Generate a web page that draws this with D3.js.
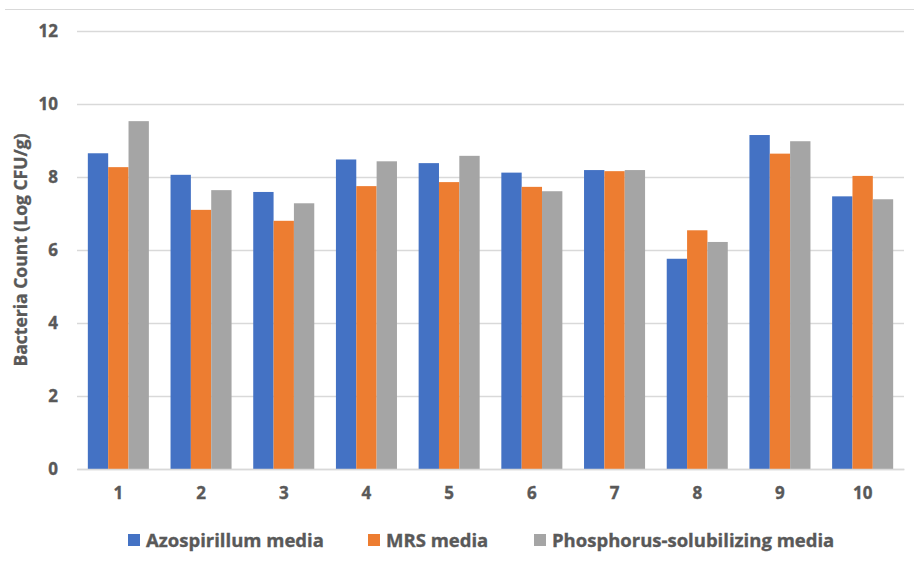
<!DOCTYPE html>
<html>
<head>
<meta charset="utf-8">
<script src="https://cdn.jsdelivr.net/npm/d3@7"></script>
<style>
  html, body { margin: 0; padding: 0; background: #fff; }
  svg { display: block; }
  text { font-family: "Open Sans", Lato, sans-serif; font-weight: bold; fill: #595959; stroke: #595959; stroke-width: 0.35px; }
</style>
</head>
<body>
<svg id="chart" width="914" height="564"></svg>
<script>
// Sample numbers 1–10
const categories = ["1", "2", "3", "4", "5", "6", "7", "8", "9", "10"];
const seriesNames = ["Azospirillum media", "MRS media", "Phosphorus-solubilizing media"];
const azospirillum = [8.65, 8.06, 7.59, 8.48, 8.38, 8.12, 8.19, 5.76, 9.15, 7.47];
const mrs = [8.27, 7.10, 6.80, 7.75, 7.86, 7.73, 8.16, 6.54, 8.64, 8.03];
const phosphorus = [9.53, 7.64, 7.28, 8.43, 8.58, 7.61, 8.19, 6.22, 8.98, 7.39];
const yTicks = [0, 2, 4, 6, 8, 10, 12];
const colors = ["#4472C4", "#ED7D31", "#A5A5A5"];

const seriesValues = [azospirillum, mrs, phosphorus];
const rows = categories.map((c, i) => ({ cat: c, values: seriesValues.map(s => s[i]) }));

const svg = d3.select("#chart");
const margin = { left: 77, right: 10, top: 31, bottom: 95 };
const W = 914, H = 564;

// thin rule at the top edge
svg.append("line")
  .attr("x1", 5).attr("x2", W).attr("y1", 9.5).attr("y2", 9.5)
  .attr("stroke", "#d9d9d9").attr("stroke-width", 1.2);

const x = d3.scaleBand().domain(categories).range([margin.left, W - margin.right]).paddingInner(0).paddingOuter(0);
const y = d3.scaleLinear().domain([0, 12]).range([469, 31]);
const groupWidth = x.bandwidth() * 0.738;
const xs = d3.scaleBand().domain(d3.range(3)).range([0, groupWidth]);

// horizontal gridlines and value labels
const yAxis = d3.axisLeft(y).tickValues(yTicks).tickSize(-(W - margin.right - margin.left)).tickPadding(19);
const gy = svg.append("g").attr("transform", `translate(${margin.left},0)`).call(yAxis);
gy.select(".domain").remove();
gy.selectAll(".tick line").attr("stroke", "#d9d9d9").attr("stroke-width", 1.3);
gy.selectAll(".tick text").style("font-size", "17px").attr("fill", "#595959");

// bars
const groups = svg.append("g").selectAll("g").data(rows).join("g")
  .attr("transform", d => `translate(${x(d.cat) + (x.bandwidth() - groupWidth) / 2},0)`);
groups.selectAll("rect").data(d => d.values).join("rect")
  .attr("x", (d, i) => xs(i))
  .attr("width", xs.bandwidth())
  .attr("y", d => y(d))
  .attr("height", d => y(0) - y(d))
  .attr("fill", (d, i) => colors[i]);

// category axis
const xAxis = d3.axisBottom(x).tickSize(0).tickPadding(18);
const gx = svg.append("g").attr("transform", `translate(0,${y(0)})`).call(xAxis);
gx.select(".domain").attr("stroke", "#d9d9d9").attr("stroke-width", 1.3);
gx.selectAll(".tick text").style("font-size", "17px").attr("fill", "#595959");

// axis title
svg.append("text")
  .attr("transform", `translate(26.5,${(y(0) + y(12)) / 2}) rotate(-90)`)
  .attr("text-anchor", "middle")
  .style("font-size", "17.5px")
  .text("Bacteria Count (Log CFU/g)");

// legend
const legendX = [128, 368, 534];
const legend = svg.append("g").selectAll("g").data(seriesNames).join("g")
  .attr("transform", (d, i) => `translate(${legendX[i]},534)`);
legend.append("rect").attr("width", 12).attr("height", 12).attr("fill", (d, i) => colors[i]);
legend.append("text").attr("x", 18).attr("y", 12.5).style("font-size", "18.5px").text(d => d);
</script>
</body>
</html>
